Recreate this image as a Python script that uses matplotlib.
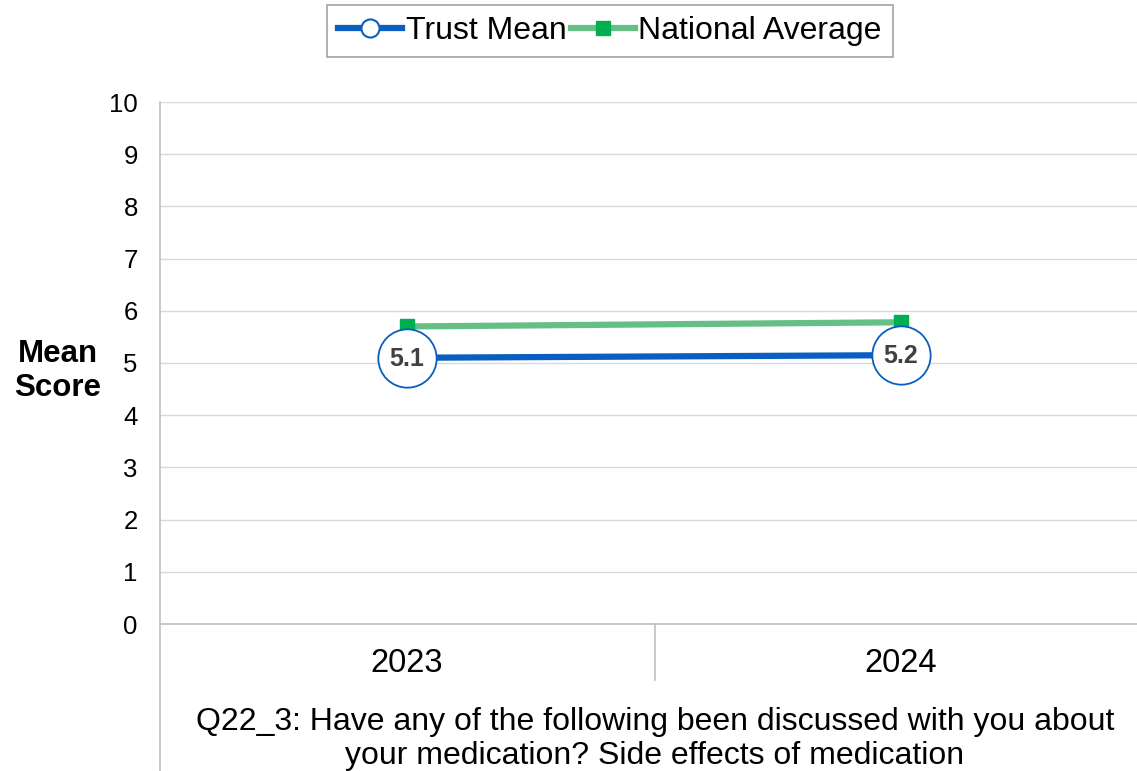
import numpy as np
import matplotlib.pyplot as plt
from matplotlib.lines import Line2D

plt.rcParams['font.family'] = ['Liberation Sans', 'DejaVu Sans']

years = ['2023', '2024']
trust_mean = [5.1, 5.15]
trust_labels = ['5.1', '5.2']
national_avg = [5.7, 5.78]
question = "Q22_3: Have any of the following been discussed with you about\nyour medication? Side effects of medication"

blue = '#0A5EBF'
green_line = '#66C085'
green_mark = '#00B050'
grey = '#D9D9D9'

W, H = 1137, 771
fig = plt.figure(figsize=(W / 100, H / 100), dpi=100)
ax = fig.add_axes([160 / W, 1 - 624 / H, 988 / W, 522 / H])

x = np.arange(len(years))
ax.plot(x, national_avg, color=green_line, lw=4.5, marker='s', ms=10,
        mfc=green_mark, mec=green_mark, zorder=3, label='National Average')
ax.plot(x, trust_mean, color=blue, lw=4.5, zorder=4)
ax.plot(x, trust_mean, ls='none', marker='o', ms=42, mfc='white',
        mec=blue, mew=1.3, zorder=5)
for xi, yi, lab in zip(x, trust_mean, trust_labels):
    ax.text(xi, yi - 0.02, lab, ha='center', va='center', fontsize=18,
            fontweight='bold', color='#404040', zorder=6)

ax.set_xlim(-0.5, 1.5)
ax.set_ylim(0, 10)
ax.set_yticks(range(0, 11))
ax.tick_params(axis='y', length=0, pad=16, labelsize=18.5)
ax.set_xticks([])
ax.yaxis.grid(True, color=grey, lw=1)
ax.set_axisbelow(True)
for s in ['top', 'right', 'left']:
    ax.spines[s].set_visible(False)
ax.spines['bottom'].set_color('#BFBFBF')
ax.spines['bottom'].set_linewidth(1.2)

# category labels
for xi, yr in zip(x, years):
    ax.text(xi, -0.75, yr, ha='center', va='center', fontsize=23.5,
            transform=ax.transData, clip_on=False)

# left axis line running down to the bottom, and category divider
fig.add_artist(Line2D([160 / W, 160 / W], [0, 1 - 102 / H], color='#BFBFBF', lw=1.2))
fig.add_artist(Line2D([655 / W, 655 / W], [1 - 680 / H, 1 - 624 / H], color='#BFBFBF', lw=1.2))

fig.text(58 / W, 1 - 371 / H, 'Mean\nScore', ha='center', va='center',
         fontsize=22.5, fontweight='bold', linespacing=1.2)
fig.text(655 / W, 1 - 739 / H, question, ha='center', va='center',
         fontsize=23, linespacing=1.15)

handles = [
    Line2D([], [], color=blue, lw=4.5, marker='o', ms=13, mfc='white', mec=blue, mew=1.5),
    Line2D([], [], color=green_line, lw=4.5, marker='s', ms=10, mfc=green_mark, mec=green_mark),
]
leg = fig.legend(handles, ['Trust Mean', 'National Average'], loc='center',
                 bbox_to_anchor=(610 / W, 1 - 31 / H), ncol=2, fontsize=23,
                 frameon=True, fancybox=False, edgecolor='#8C8C8C',
                 handlelength=2.0, handletextpad=0.1, columnspacing=0.15,
                 borderpad=0.35)
leg.get_frame().set_linewidth(1.2)

fig.savefig('out.png', dpi=100)
